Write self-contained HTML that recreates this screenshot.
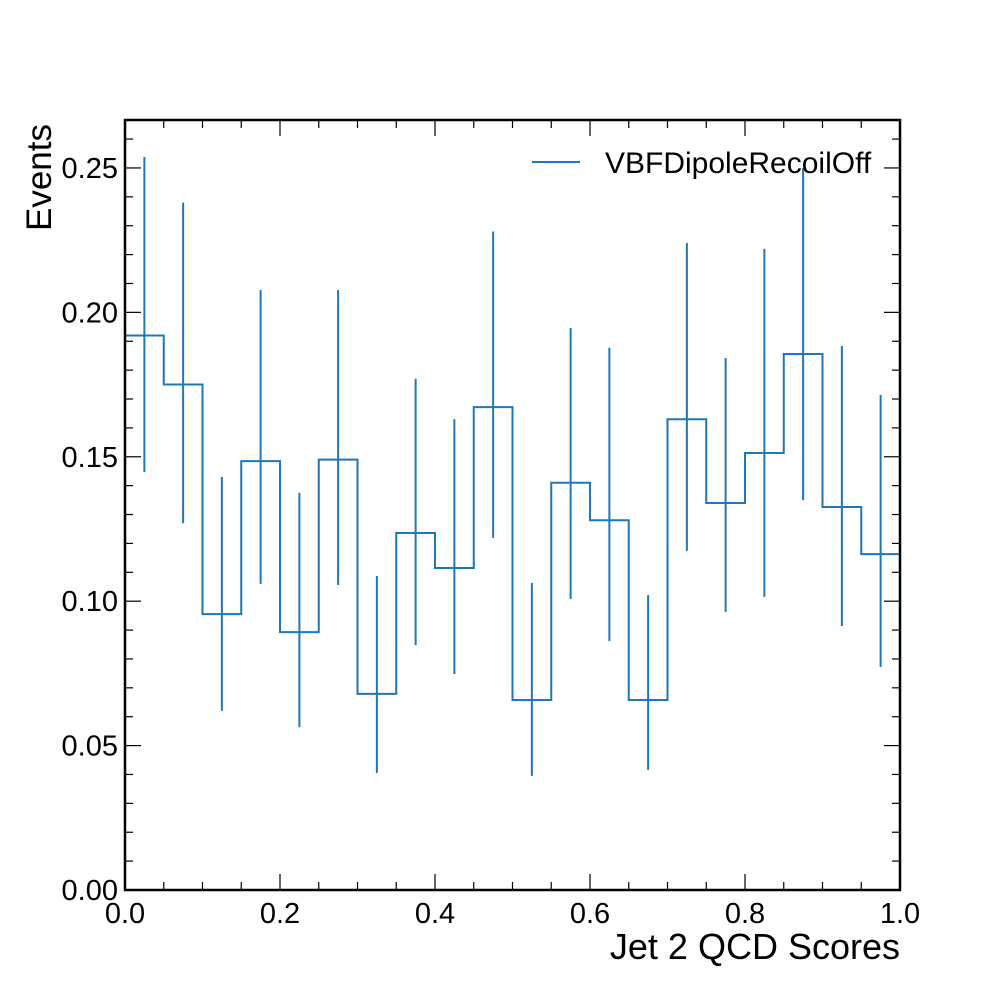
<!DOCTYPE html>
<html><head><meta charset="utf-8"><style>
body{margin:0;background:#fff}
svg{display:block;font-family:"Liberation Sans",sans-serif}
</style></head><body>
<svg id="c" width="1000" height="1000" xmlns="http://www.w3.org/2000/svg"></svg>
<script>
const binEdges=[0,0.05,0.1,0.15,0.2,0.25,0.3,0.35,0.4,0.45,0.5,0.55,0.6,0.65,0.7,0.75,0.8,0.85,0.9,0.95,1.0];
const values=[0.192,0.175,0.0955,0.1485,0.0893,0.149,0.0679,0.1236,0.1115,0.1672,0.0658,0.141,0.128,0.0658,0.163,0.134,0.1513,0.1856,0.1326,0.1163];
const errHigh=[0.2538,0.238,0.143,0.2077,0.1375,0.2077,0.1087,0.177,0.163,0.228,0.1063,0.1946,0.1877,0.1021,0.224,0.1842,0.222,0.25,0.1884,0.1714];
const errLow=[0.1447,0.127,0.062,0.106,0.0564,0.1056,0.0405,0.0848,0.0748,0.1219,0.0395,0.1008,0.0862,0.0416,0.1174,0.0963,0.1015,0.135,0.0914,0.0772];
const xTicks=["0.0","0.2","0.4","0.6","0.8","1.0"];
const yTicks=["0.00","0.05","0.10","0.15","0.20","0.25"];
const L=125,R=900,T=120,B=890,ymax=0.2666;
const X=v=>L+(R-L)*v, Y=v=>B-(B-T)*v/ymax;
const svg=document.getElementById('c'),NS="http://www.w3.org/2000/svg";
function mk(t,a,p){const e=document.createElementNS(NS,t);for(const k in a)e.setAttribute(k,a[k]);(p||svg).appendChild(e);return e;}
const C="#1f77b4";
let d="";
values.forEach((v,i)=>{d+=(i?"L":"M")+X(binEdges[i])+","+Y(v)+"L"+X(binEdges[i+1])+","+Y(v);});
const step=mk("path",{d:d,fill:"none",stroke:C,"stroke-width":2});


values.forEach((v,i)=>{const cx=X((binEdges[i]+binEdges[i+1])/2);
const e=mk("line",{x1:cx,x2:cx,y1:Y(errLow[i]),y2:Y(errHigh[i]),stroke:C,"stroke-width":2});

});
const tk=mk("g",{stroke:"#000","stroke-width":1.2});
for(let i=0;i<=20;i++){const x=X(i*0.05),len=i%4==0?16:8;
mk("line",{x1:x,x2:x,y1:B,y2:B-len},tk);mk("line",{x1:x,x2:x,y1:T,y2:T+len},tk);}
for(let i=0;i<=26;i++){const y=Y(i*0.01),len=i%5==0?16:8;
mk("line",{x1:L,x2:L+len,y1:y,y2:y},tk);mk("line",{x1:R,x2:R-len,y1:y,y2:y},tk);}
xTicks.forEach((t,i)=>{const e=mk("text",{x:X(parseFloat(t)),y:B+33,"text-anchor":"middle","font-size":29});e.textContent=t;

});
yTicks.forEach((t,i)=>{const e=mk("text",{x:L-7,y:Y(parseFloat(t))+10,"text-anchor":"end","font-size":29});e.textContent=t;

});
const fr=mk("rect",{x:L,y:T,width:R-L,height:B-T,fill:"none",stroke:"#000","stroke-width":2.5});


const xl=mk("text",{x:R,y:959,"text-anchor":"end","font-size":36});xl.textContent="Jet 2 QCD Scores";


const yl=mk("text",{x:0,y:0,"text-anchor":"end","font-size":35,transform:"translate(51,124) rotate(-90)"});yl.textContent="Events";


const lg=mk("g",{});


mk("line",{x1:532,x2:580,y1:162,y2:162,stroke:C,"stroke-width":2},lg);
const lt=mk("text",{x:605,y:173,"font-size":30},lg);lt.textContent="VBFDipoleRecoilOff";
</script>
</body></html>
